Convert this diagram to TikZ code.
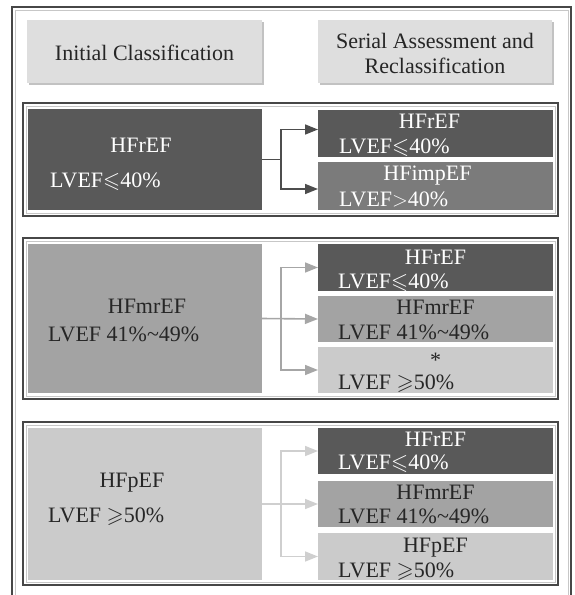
\documentclass[tikz,border=0pt]{standalone}
\usepackage{fontspec}
\usepackage{amssymb}
\setmainfont{Liberation Serif}
\usetikzlibrary{arrows.meta}
\definecolor{dk}{HTML}{595959}
\definecolor{imp}{HTML}{7B7B7B}
\definecolor{md}{HTML}{A3A3A3}
\definecolor{lt}{HTML}{CBCBCB}
\definecolor{hd}{HTML}{DEDEDE}
\definecolor{ink}{HTML}{262626}
\definecolor{arA}{HTML}{4D4D4D}
\definecolor{arB}{HTML}{A6A6A6}
\definecolor{arC}{HTML}{CFCFCF}
\tikzset{
    box/.style={anchor=north west, inner sep=0pt, outer sep=0pt},
    lbox/.style={box, minimum width=234pt, minimum height=#1},
    rbox/.style={box, minimum width=235pt, minimum height=#1},
    frm/.style={draw=black!72, line width=1.3pt},
    inn/.style={draw=black!22, line width=0.7pt},
    tx/.style={inner sep=0pt, anchor=base, text=ink, font=\fontsize{22}{25}\selectfont},
    lv/.style={tx, anchor=base west},
    arr/.style={line width=1.6pt, -{Triangle[length=13pt,width=10pt]}},
}
\begin{document}
\begin{tikzpicture}[x=1pt, y=-1pt]
\useasboundingbox (0,0) rectangle (575,595);
% outer frame, open at the bottom
\draw[frm] (12,595)--(12,7)--(571,7)--(571,595);
\draw[inn] (15,595)--(15,10)--(568,10)--(568,595);

% headers
\fill[black!24] (29,22) rectangle (264,85);
\node[box, fill=hd, minimum width=235pt, minimum height=63pt] (h1) at (27,20) {};
\node[tx] (h1t) at ([yshift=-40pt]h1.north) {Initial Classification};
\fill[black!24] (320,22) rectangle (554,85);
\node[box, fill=hd, minimum width=234pt, minimum height=63pt] (h2) at (318,20) {};
\node[tx, align=center] (h2t) at ([yshift=-53pt]h2.north) {Serial Assessment and\\Reclassification};

% HFrEF
\draw[frm] (23,103) rectangle (558,216);
\draw[inn] (26,106) rectangle (555,213);
\node[lbox=101pt, fill=dk] (g1l) at (28,109) {};
\node[rbox=47pt, fill=dk] (g1a) at (318,110) {};
\node[rbox=48pt, fill=imp] (g1b) at (318,162) {};
\node[tx, text=white] (g1lt) at ([xshift=-4pt, yshift=-43pt]g1l.north) {HFrEF};
\node[lv, text=white] (g1lv) at ([xshift=22pt, yshift=-78pt]g1l.north west) {LVEF$\leqslant$40\%};
\node[tx, text=white] (g1at) at ([xshift=-6pt, yshift=-18pt]g1a.north) {HFrEF};
\node[lv, text=white] (g1av) at ([xshift=21pt, yshift=-43pt]g1a.north west) {LVEF$\leqslant$40\%};
\node[tx, text=white] (g1bt) at ([xshift=-8pt, yshift=-18pt]g1b.north) {HFimpEF};
\node[lv, text=white] (g1bv) at ([xshift=21pt, yshift=-44pt]g1b.north west) {LVEF$>$40\%};
\coordinate (g1j) at ([xshift=19pt]g1l.east);
\draw[arr, arA] (g1l.east) -- (g1j) |- ([yshift=4pt]g1a.west);
\draw[arr, arA] (g1j) |- ([yshift=-3pt]g1b.west);

% HFmrEF
\draw[frm] (23,238) rectangle (558,399);
\draw[inn] (26,241) rectangle (555,396);
\node[lbox=149pt, fill=md] (g2l) at (28,244) {};
\node[rbox=47pt, fill=dk] (g2a) at (318,244) {};
\node[rbox=46pt, fill=md] (g2b) at (318,296) {};
\node[rbox=46pt, fill=lt] (g2c) at (318,347) {};
\node[tx] (g2lt) at ([xshift=2pt, yshift=-69pt]g2l.north) {HFmrEF};
\node[lv] (g2lv) at ([xshift=20pt, yshift=-97pt]g2l.north west) {LVEF 41\%\textasciitilde49\%};
\node[tx, text=white] (g2at) at ([yshift=-20pt]g2a.north) {HFrEF};
\node[lv, text=white] (g2av) at ([xshift=20pt, yshift=-44pt]g2a.north west) {LVEF$\leqslant$40\%};
\node[tx] (g2bt) at ([yshift=-18pt]g2b.north) {HFmrEF};
\node[lv] (g2bv) at ([xshift=20pt, yshift=-43pt]g2b.north west) {LVEF 41\%\textasciitilde49\%};
\node[tx] (g2ct) at ([yshift=-20pt]g2c.north) {*};
\node[lv] (g2cv) at ([xshift=20pt, yshift=-42pt]g2c.north west) {LVEF $\geqslant$50\%};
\coordinate (g2j) at ([xshift=19pt]g2l.east);
\draw[arr, arB] (g2l.east) -- (g2b.west);
\draw[arr, arB] (g2j) |- (g2a.west);
\draw[arr, arB] (g2j) |- (g2c.west);

% HFpEF
\draw[frm] (23,422) rectangle (558,585);
\draw[inn] (26,425) rectangle (555,582);
\node[lbox=152pt, fill=lt] (g3l) at (28,428) {};
\node[rbox=46pt, fill=dk] (g3a) at (318,428) {};
\node[rbox=46pt, fill=md] (g3b) at (318,481) {};
\node[rbox=47pt, fill=lt] (g3c) at (318,533) {};
\node[tx] (g3lt) at ([xshift=-13pt, yshift=-59pt]g3l.north) {HFpEF};
\node[lv] (g3lv) at ([xshift=20pt, yshift=-94pt]g3l.north west) {LVEF $\geqslant$50\%};
\node[tx, text=white] (g3at) at ([yshift=-18pt]g3a.north) {HFrEF};
\node[lv, text=white] (g3av) at ([xshift=20pt, yshift=-41pt]g3a.north west) {LVEF$\leqslant$40\%};
\node[tx] (g3bt) at ([yshift=-18pt]g3b.north) {HFmrEF};
\node[lv] (g3bv) at ([xshift=20pt, yshift=-42pt]g3b.north west) {LVEF 41\%\textasciitilde49\%};
\node[tx] (g3ct) at ([yshift=-19pt]g3c.north) {HFpEF};
\node[lv] (g3cv) at ([xshift=20pt, yshift=-44pt]g3c.north west) {LVEF $\geqslant$50\%};
\coordinate (g3j) at ([xshift=19pt]g3l.east);
\draw[arr, arC] (g3l.east) -- (g3b.west);
\draw[arr, arC] (g3j) |- (g3a.west);
\draw[arr, arC] (g3j) |- (g3c.west);
\end{tikzpicture}
\end{document}
